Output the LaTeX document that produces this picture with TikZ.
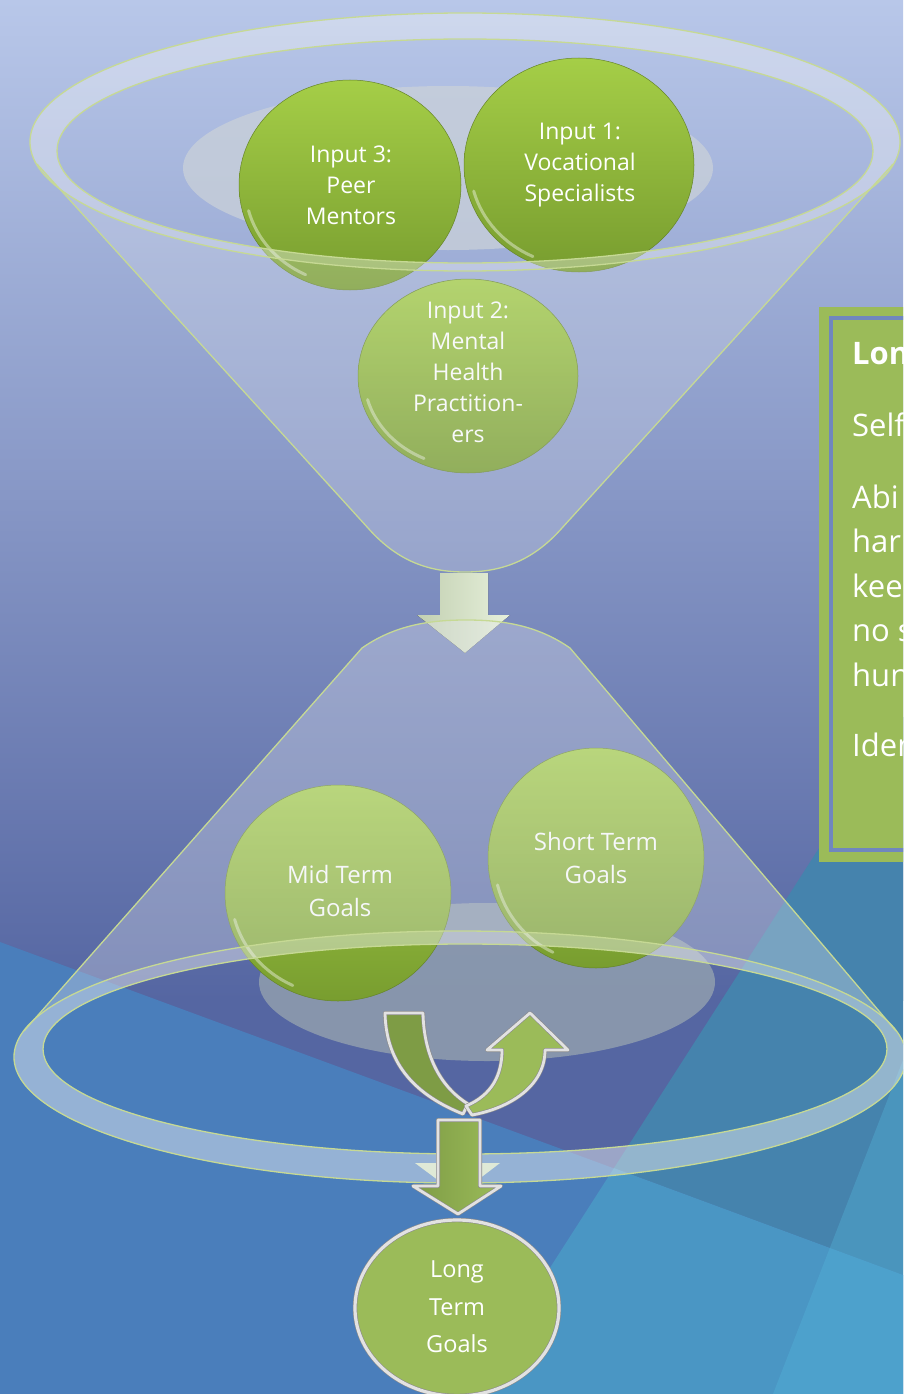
\documentclass[tikz,border=0pt]{standalone}
\usepackage{fontspec}
\setmainfont{Open Sans}
\usetikzlibrary{shapes.geometric}
\definecolor{bgtop}{HTML}{B8C7E9}
\definecolor{bgmid}{HTML}{5566A2}
\definecolor{bgblue}{HTML}{4A7EBB}
\definecolor{tealA}{HTML}{4583AD}
\definecolor{tealB}{HTML}{4A96C4}
\definecolor{tealC}{HTML}{55B8DC}
\definecolor{gtop}{HTML}{A5CE47}
\definecolor{gbot}{HTML}{789D2F}
\definecolor{gflat}{HTML}{9BBB59}
\definecolor{gdark}{HTML}{7E9C45}
\definecolor{rimline}{HTML}{C6D994}
\definecolor{graytop}{HTML}{CAD1D9}
\definecolor{graybot}{HTML}{8D9BAE}
\definecolor{pale}{HTML}{D3E4BE}
\definecolor{glasscol}{HTML}{E4E7EE}
\definecolor{boxline}{HTML}{7087BE}
\definecolor{silver}{HTML}{E2E2E2}
\definecolor{silverdk}{HTML}{8C8C8C}
\tikzset{
  ballfill/.style={top color=gtop, bottom color=gbot, draw=gbot!85!black, line width=0.5pt},
  balltext/.style={inner sep=0pt, text=white, align=center, font=\fontsize{23}{31}\selectfont},
  hl/.style={draw=white, line width=3pt, line cap=round, opacity=0.4},
  glass/.style={fill=glasscol, fill opacity=0.24, even odd rule},
  ringglass/.style={fill=white, fill opacity=0.2, even odd rule},
  rim/.style={draw=rimline, line width=1.3pt},
  bevel/.style={draw=silverdk, double=silver, double distance=2.8pt, line width=0.6pt, line join=round},
  boxtxt/.style={anchor=base west, inner sep=0pt, text=white, font=\fontsize{31}{44}\selectfont},
}
\begin{document}
\begin{tikzpicture}[x=1pt,y=-1pt]
\useasboundingbox (0,0) rectangle (903,1394);
\clip (0,0) rectangle (903,1394);
% ---------- background ----------
\fill[bgmid] (0,0) rectangle (903,1394);
\shade[top color=bgtop, bottom color=bgmid] (0,0) rectangle (903,1000);
\fill[bgblue] (0,942) -- (903,1275) -- (903,1394) -- (0,1394) -- cycle;
\fill[tealA] (903,717) -- (614,1168) -- (903,1275) -- cycle;
\fill[tealB] (614,1168) -- (469,1394) -- (903,1394) -- (903,1275) -- cycle;
\fill[tealC, opacity=0.35] (903,1060) -- (773,1394) -- (903,1394) -- cycle;
% ---------- upper funnel contents ----------
\fill[graytop, opacity=0.75] (448,168) ellipse [x radius=265, y radius=82];
\path[ballfill] (350,185) ellipse [x radius=111, y radius=105];
\draw[hl] (350,185) ++(115:105 and 99) arc[start angle=115, end angle=165, x radius=105, y radius=99];
\node[balltext] (in3) at (351,185) {Input 3:\\Peer\\Mentors};
\path[ballfill] (579,165) ellipse [x radius=115, y radius=107];
\draw[hl] (579,165) ++(115:109 and 101) arc[start angle=115, end angle=165, x radius=109, y radius=101];
\node[balltext] (in1) at (580,165) {Input 1:\\Vocational\\Specialists};
\path[ballfill] (468,376) ellipse [x radius=110, y radius=97];
\draw[hl] (468,376) ++(115:104 and 91) arc[start angle=115, end angle=165, x radius=104, y radius=91];
\node[balltext] (in2) at (468,372) {Input 2:\\Mental\\Health\\Practition-\\ers};
% ---------- upper funnel glass ----------
\path[glass] (37,164) -- (368,528) .. controls (398,562) and (430,572) .. (465,572)
  .. controls (500,572) and (532,562) .. (562,528) -- (893,164)
  arc[start angle=10, end angle=-190, x radius=435, y radius=129] -- cycle
  (465,151) ellipse [x radius=408, y radius=112];
\path[ringglass] (465,142) ellipse [x radius=435, y radius=129]
  (465,151) ellipse [x radius=408, y radius=112];
\draw[rim] (37,164) -- (368,528) .. controls (398,562) and (430,572) .. (465,572)
  .. controls (500,572) and (532,562) .. (562,528) -- (893,164);
\draw[rim] (465,142) ellipse [x radius=435, y radius=129];
\draw[rim] (465,151) ellipse [x radius=408, y radius=112];
% ---------- arrow between funnels ----------
\fill[left color=pale!80!gray, right color=pale!55!white] (440,573) -- (488,573) -- (488,615) -- (510,615) -- (465,653) -- (417,615) -- (440,615) -- cycle;
% ---------- lower funnel contents ----------
\fill[graybot, opacity=0.9] (487,982) ellipse [x radius=228, y radius=79];
\path[ballfill] (338,893) ellipse [x radius=113, y radius=108];
\draw[hl] (338,893) ++(115:107 and 102) arc[start angle=115, end angle=165, x radius=107, y radius=102];
\node[balltext, font=\fontsize{24}{33}\selectfont] (mid) at (340,891) {Mid Term\\Goals};
\path[ballfill] (596,858) ellipse [x radius=108, y radius=110];
\draw[hl] (596,858) ++(115:102 and 104) arc[start angle=115, end angle=165, x radius=102, y radius=104];
\node[balltext, font=\fontsize{24}{33}\selectfont] (short) at (596,858) {Short Term\\Goals};
\fill[pale] (415,1163) -- (500,1163) -- (458,1195) -- cycle;
% ---------- lower funnel glass ----------
\path[glass, fill opacity=0.32] (24,1031) -- (362,648) .. controls (395,625) and (430,620) .. (466,620)
  .. controls (502,620) and (537,625) .. (570,648) -- (896,1031)
  arc[start angle=-12, end angle=192, x radius=446, y radius=126] -- cycle
  (465,1049) ellipse [x radius=422, y radius=105];
\path[ringglass] (460,1057) ellipse [x radius=446, y radius=126]
  (465,1049) ellipse [x radius=422, y radius=105];
\draw[rim] (24,1031) -- (362,648) .. controls (395,625) and (430,620) .. (466,620)
  .. controls (502,620) and (537,625) .. (570,648) -- (896,1031);
\draw[rim] (460,1057) ellipse [x radius=446, y radius=126];
\draw[rim] (465,1049) ellipse [x radius=422, y radius=105];
% ---------- split arrow ----------
\path[bevel, fill=gdark] (385,1013) -- (423,1013) .. controls (424,1058) and (442,1088) .. (468,1104)
  -- (463,1114) .. controls (418,1096) and (386,1066) .. (385,1013) -- cycle;
\path[bevel, fill=gflat] (466,1106) .. controls (492,1095) and (502,1075) .. (502,1050)
  -- (487,1050) -- (530,1013) -- (568,1050) -- (545,1050)
  .. controls (545,1086) and (510,1108) .. (472,1115) -- cycle;
\path[bevel, left color=gdark, right color=gflat] (438,1120) -- (480,1120) -- (480,1186) -- (501,1186)
  -- (458,1214) -- (413,1186) -- (438,1186) -- cycle;
% ---------- long term goals ----------
\path[bevel, fill=gflat, double distance=3.2pt] (457,1308) ellipse [x radius=102, y radius=88];
\node[balltext, font=\fontsize{23.5}{37.5}\selectfont] (long) at (457,1307) {Long\\Term\\Goals};
% ---------- text box ----------
\fill[gflat] (819,307) rectangle (915,862);
\draw[boxline, line width=4pt] (831,317.5) rectangle (920,850);
\node[boxtxt, font=\bfseries\fontsize{31}{44}\selectfont] (t1) at (852,364) {Lon};
\node[boxtxt] (t2) at (852,436) {Self};
\node[boxtxt] (t3) at (852,508) {Abi};
\node[boxtxt] (t4) at (852,552) {har};
\node[boxtxt] (t5) at (852,597) {kee};
\node[boxtxt] (t6) at (852,641) {no s};
\node[boxtxt] (t7) at (852,686) {hun};
\node[boxtxt] (t8) at (852,756) {Iden};
\end{tikzpicture}
\end{document}
